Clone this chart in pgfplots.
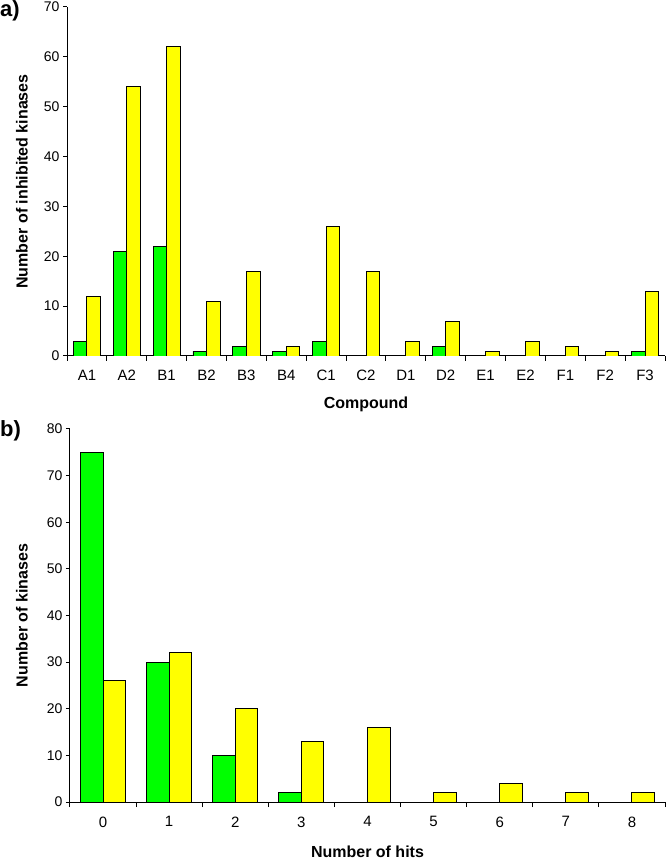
\documentclass[border=0pt]{standalone}
\usepackage{pgfplots}
\pgfplotsset{compat=1.18}
\usepackage{fontspec}
\setmainfont{Liberation Sans}
\definecolor{barG}{RGB}{0,255,0}
\definecolor{barY}{RGB}{255,255,0}
\pgfplotsset{common/.style={
  scale only axis,
  axis x line*=bottom, axis y line*=left,
  axis line style={line width=1pt, -},
  tick align=outside,
  major tick length=4pt, minor tick length=5pt,
  tick style={black, line width=1pt},
  major x tick style={draw=none},
  ymin=0,
  /pgf/number format/assume math mode=true,
  yticklabel style={font=\fontsize{14}{16}\selectfont},
  xticklabel style={font=\fontsize{15}{17}\selectfont, yshift=-7pt},
  label style={font=\bfseries\fontsize{16}{18}\selectfont},
}}
\begin{document}
\begin{tikzpicture}
\useasboundingbox (0pt,0pt) rectangle (666pt,864pt);
\node[anchor=west, font=\bfseries\fontsize{22}{24}\selectfont, inner sep=0pt] at (0pt,853pt) {a)};
\node[anchor=west, font=\bfseries\fontsize{22}{24}\selectfont, inner sep=0pt] at (0pt,433pt) {b)};
\begin{axis}[common, at={(67pt,508pt)}, anchor=south west,
  width=598pt, height=349pt,
  xmin=-0.5, xmax=14.5, ymax=70, ytick={0,10,...,70},
  xtick={0,...,14},
  xticklabels={A1,A2,B1,B2,B3,B4,C1,C2,D1,D2,E1,E2,F1,F2,F3},
  minor xtick={-0.5,0.5,...,14.5},
  xlabel={Compound}, ylabel={Number of inhibited kinases},
  xlabel style={at={(axis description cs:0.5,-0.140)}, anchor=center},
  ylabel style={at={(axis description cs:-0.0753,0.5)}, anchor=center}]
\addplot[ybar, bar width=0.34, bar shift=-0.17, fill=barG, draw=black, line width=0.9pt]
  coordinates {(0,3)(1,21)(2,22)(3,1)(4,2)(5,1)(6,3)(9,2)(14,1)};
\addplot[ybar, bar width=0.34, bar shift=0.17, fill=barY, draw=black, line width=0.9pt]
  coordinates {(0,12)(1,54)(2,62)(3,11)(4,17)(5,2)(6,26)(7,17)(8,3)(9,7)(10,1)(11,3)(12,2)(13,1)(14,13)};
\end{axis}
\begin{axis}[common, at={(70pt,62pt)}, anchor=south west,
  width=595pt, height=373pt,
  xmin=-0.5, xmax=8.5, ymax=80, ytick={0,10,...,80},
  xtick={0,...,8},
  minor xtick={-0.5,0.5,...,8.5},
  xlabel={Number of hits}, ylabel={Number of kinases},
  xlabel style={at={(axis description cs:0.5,-0.134)}, anchor=center},
  ylabel style={at={(axis description cs:-0.0807,0.5)}, anchor=center}]
\addplot[ybar, bar width=0.34, bar shift=-0.17, fill=barG, draw=black, line width=0.9pt]
  coordinates {(0,75)(1,30)(2,10)(3,2)};
\addplot[ybar, bar width=0.34, bar shift=0.17, fill=barY, draw=black, line width=0.9pt]
  coordinates {(0,26)(1,32)(2,20)(3,13)(4,16)(5,2)(6,4)(7,2)(8,2)};
\end{axis}
\end{tikzpicture}
\end{document}
